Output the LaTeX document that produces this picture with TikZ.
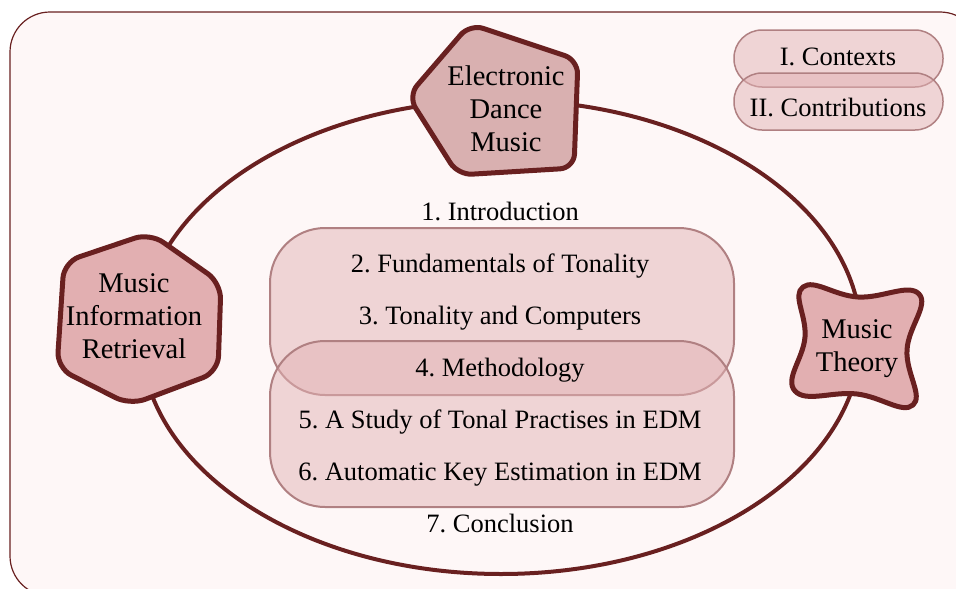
\documentclass[tikz,border=0pt]{standalone}
\usepackage{fontspec}
\setmainfont{Liberation Serif}
\frenchspacing

\definecolor{edgered}{RGB}{105,32,32}
\definecolor{bgpink}{RGB}{254,247,247}
\definecolor{edmfill}{RGB}{217,176,176}
\definecolor{nodefill}{RGB}{226,175,177}
\definecolor{partfill}{RGB}{226,178,180}
\definecolor{partline}{RGB}{176,128,130}

\begin{document}
\begin{tikzpicture}[x=1pt, y=-1pt,
    txt/.style={font=\fontsize{26.5}{32}\selectfont, anchor=base, inner sep=0pt},
    field/.style={font=\fontsize{28.5}{33}\selectfont, align=center, inner sep=0pt},
    blob/.style={draw=edgered, line width=5pt, line join=round},
    part/.style={draw=partline, line width=2pt, fill=partfill, fill opacity=0.5, rounded corners=55pt},
    tag/.style={draw=partline, line width=1.5pt, fill=partfill, fill opacity=0.5, rounded corners=28pt}]

    % Frame
    \useasboundingbox (0,0) rectangle (956,589);
    \clip (0,0) rectangle (956,589);
    \draw[edgered, line width=1.2pt, fill=bgpink, rounded corners=40pt] (10,12) rectangle (980,596);

    % Cycle
    \draw[edgered, line width=4pt] (501,337) ellipse [x radius=360, y radius=237];

    % Draw fields
    \draw[blob, fill=edmfill, rounded corners=14pt] (470,24) -- (578,60) -- (574,168) -- (458,175) -- (408,96) -- cycle;
    \draw[blob, fill=nodefill, rounded corners=16pt] (150,233) -- (221,283) -- (218,372) -- (130,405) -- (57,368) -- (64,262) -- cycle;
    \draw[blob, fill=nodefill] plot[smooth cycle, tension=0.75] coordinates {(803,287) (858,297) (919,294) (907,350) (913,405) (857,394) (795,391) (805,337)};

    \node[field] (edm) at (506,109) {Electronic\\Dance\\Music};
    \node[field] (mir) at (134,316) {Music\\Information\\Retrieval};
    \node[field] (theory) at (857,349) {Music\\Theory};

    % Parts
    \draw[part] (270,228) rectangle (734,395);
    \draw[part] (270,341) rectangle (734,507);

    % Chapters
    \node[txt] (ch1) at (500,220) {1. Introduction};
    \node[txt] (ch2) at (500,272) {2. Fundamentals of Tonality};
    \node[txt] (ch3) at (500,324) {3. Tonality and Computers};
    \node[txt] (ch4) at (500,376) {4. Methodology};
    \node[txt] (ch5) at (500,428) {5. A Study of Tonal Practises in EDM};
    \node[txt] (ch6) at (500,480) {6. Automatic Key Estimation in EDM};
    \node[txt] (ch7) at (500,532) {7. Conclusion};

    % Legend
    \draw[tag] (734,30) rectangle (943,87);
    \draw[tag] (734,73) rectangle (943,130);
    \node[txt] (partI) at (838,65) {I. Contexts};
    \node[txt] (partII) at (838,116) {II. Contributions};
\end{tikzpicture}
\end{document}
